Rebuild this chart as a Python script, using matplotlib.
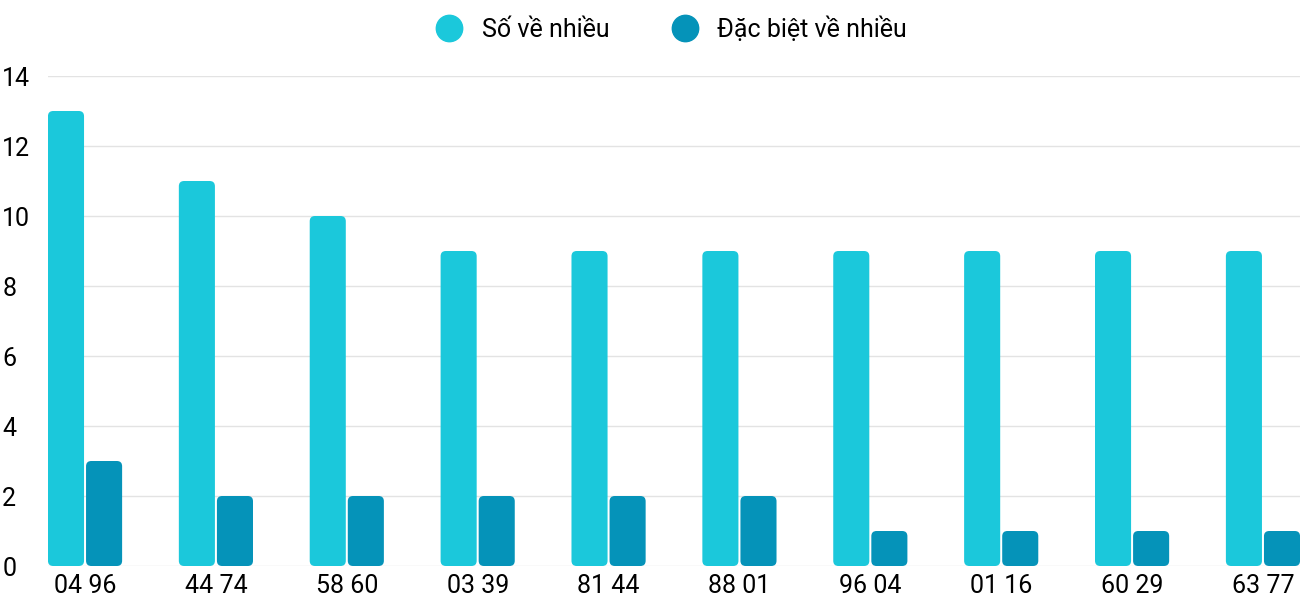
import matplotlib
matplotlib.use("Agg")
import matplotlib.pyplot as plt
import numpy as np
from matplotlib.patches import FancyBboxPatch
from matplotlib.lines import Line2D

categories = ["04 96", "44 74", "58 60", "03 39", "81 44", "88 01", "96 04", "01 16", "60 29", "63 77"]
so_ve_nhieu = [13, 11, 10, 9, 9, 9, 9, 9, 9, 9]
dac_biet = [3, 2, 2, 2, 2, 2, 1, 1, 1, 1]

plt.rcParams['font.family'] = ['Roboto', 'DejaVu Sans']
c1, c2 = "#1BC8DB", "#0593B9"

fig = plt.figure(figsize=(13, 6), dpi=100)
ax = fig.add_axes([48/1300, 34/600, 1252/1300, 490/600])
x = np.arange(len(categories))
w = 36/130.6
gap = 2/130.6
ax.set_xlim(-0.283, len(categories) - 1 + 0.283)
ax.set_ylim(0, 14)
aspect = (14/490) / (1/130.6)

def rbar(xl, h, color):
    p = FancyBboxPatch((xl, 0), w, h, boxstyle="round,pad=0,rounding_size=0.04",
                       mutation_aspect=aspect, fc=color, ec="none", zorder=3)
    ax.add_patch(p)

for i in x:
    rbar(i - w - gap/2, so_ve_nhieu[i], c1)
    rbar(i + gap/2, dac_biet[i], c2)

ax.set_xticks(x)
ax.set_xticklabels(categories, fontsize=18)
ax.set_yticks(range(0, 15, 2))
ax.tick_params(axis='y', labelsize=18, length=0, pad=33)
ax.tick_params(axis='x', length=0, pad=6)
for lab in ax.get_yticklabels():
    lab.set_horizontalalignment('left')
ax.grid(axis='y', color="#e3e3e3", lw=1, zorder=0)
for s in ax.spines.values():
    s.set_visible(False)

handles = [Line2D([], [], marker='o', ls='', ms=19, color=c1),
           Line2D([], [], marker='o', ls='', ms=19, color=c2)]
fig.legend(handles, ["Số về nhiều", "Đặc biệt về nhiều"], loc='center',
           bbox_to_anchor=(0.512, 0.952), ncol=2, frameon=False, fontsize=18,
           handletextpad=0.3, columnspacing=2.0)
fig.savefig("out.png", dpi=100)
